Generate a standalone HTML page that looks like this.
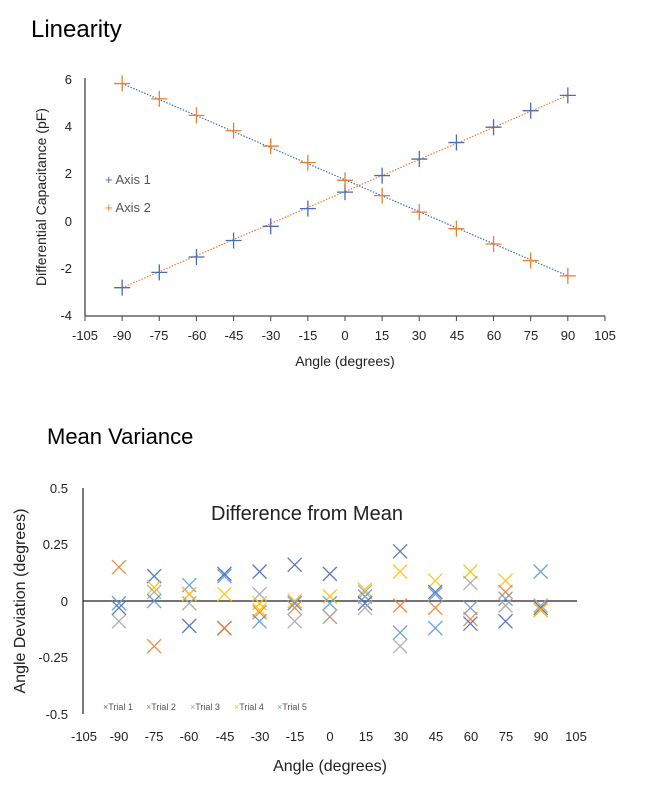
<!DOCTYPE html>
<html><head><meta charset="utf-8"><style>
body{margin:0;background:#fff;width:659px;height:796px;overflow:hidden;font-family:"Liberation Sans",sans-serif}
svg{position:absolute;left:0;top:0}
text{font-family:"Liberation Sans",sans-serif}
</style></head><body>
<svg id="s" width="659" height="796" viewBox="0 0 659 796">
<text x="31" y="37" font-size="24" fill="#000">Linearity</text>
<text x="47" y="444" font-size="22" fill="#000">Mean Variance</text>
<line x1="85" y1="78" x2="85" y2="316" stroke="#444" stroke-width="1.3"/>
<line x1="85" y1="316" x2="605" y2="316" stroke="#444" stroke-width="1.3"/>
<g font-size="13" fill="#222" text-anchor="end">
<text x="72" y="84">6</text><text x="72" y="131">4</text><text x="72" y="178">2</text><text x="72" y="226">0</text><text x="72" y="273">-2</text><text x="72" y="320">-4</text>
</g>
<g font-size="13" fill="#222" text-anchor="middle">
<text x="85" y="340">-105</text><text x="122" y="340">-90</text><text x="159" y="340">-75</text><text x="197" y="340">-60</text><text x="234" y="340">-45</text><text x="271" y="340">-30</text><text x="308" y="340">-15</text><text x="345" y="340">0</text><text x="382" y="340">15</text><text x="419" y="340">30</text><text x="457" y="340">45</text><text x="494" y="340">60</text><text x="531" y="340">75</text><text x="568" y="340">90</text><text x="605" y="340">105</text>
</g>
<text x="345" y="366" font-size="14" fill="#222" text-anchor="middle">Angle (degrees)</text>
<text transform="translate(46,197) rotate(-90)" font-size="14" fill="#222" text-anchor="middle">Differential  Capacitance (pF)</text>
<g font-size="13" fill="#555">
<text x="105" y="184"><tspan fill="#4A6BB5">+</tspan> Axis 1</text>
<text x="105" y="212"><tspan fill="#ED7D31">+</tspan> Axis 2</text>
</g>
<line x1="83" y1="488" x2="83" y2="714" stroke="#222" stroke-width="1.2"/>
<line x1="83" y1="601" x2="577" y2="601" stroke="#222" stroke-width="1.2"/>
<g font-size="13" fill="#222" text-anchor="end">
<text x="68" y="493">0.5</text><text x="68" y="549">0.25</text><text x="68" y="606">0</text><text x="68" y="662">-0.25</text><text x="68" y="719">-0.5</text>
</g>
<g font-size="13" fill="#222" text-anchor="middle">
<text x="84" y="741">-105</text><text x="119" y="741">-90</text><text x="154" y="741">-75</text><text x="189" y="741">-60</text><text x="225" y="741">-45</text><text x="260" y="741">-30</text><text x="295" y="741">-15</text><text x="330" y="741">0</text><text x="366" y="741">15</text><text x="401" y="741">30</text><text x="436" y="741">45</text><text x="471" y="741">60</text><text x="506" y="741">75</text><text x="541" y="741">90</text><text x="576" y="741">105</text>
</g>
<text x="330" y="771" font-size="16" fill="#222" text-anchor="middle">Angle (degrees)</text>
<text transform="translate(25,601) rotate(-90)" font-size="16" fill="#222" text-anchor="middle">Angle Deviation (degrees)</text>
<text x="307" y="520" font-size="20" fill="#222" text-anchor="middle">Difference from Mean</text>
<g font-size="9" fill="#555">
<text x="103" y="710"><tspan fill="#4A6BB5">×</tspan>Trial 1</text>
<text x="146" y="710"><tspan fill="#ED7D31">×</tspan>Trial 2</text>
<text x="190" y="710"><tspan fill="#A5A5A5">×</tspan>Trial 3</text>
<text x="234" y="710"><tspan fill="#FFC000">×</tspan>Trial 4</text>
<text x="277" y="710"><tspan fill="#5B9BD5">×</tspan>Trial 5</text>
</g>
<g id="m"></g>
</svg>
<script>
var g=document.getElementById('m'),h='';
function X(a){return 345+a/15*37.14}function Y(v){return 221.6-v*23.6}
var a1=[-2.8,-2.15,-1.5,-0.8,-0.2,0.55,1.25,1.95,2.65,3.35,4.0,4.7,5.35];
var a2=[5.85,5.2,4.5,3.85,3.2,2.5,1.75,1.1,0.4,-0.3,-0.95,-1.65,-2.3];
for(var i=0;i<=14;i++){var x=85+i*37.14;h+='<line x1="'+x+'" y1="316" x2="'+x+'" y2="321" stroke="#444"/>';}
h+='<line x1="'+X(-90)+'" y1="'+Y(a2[0])+'" x2="'+X(90)+'" y2="'+Y(a2[12])+'" stroke="#4A6BB5" stroke-width="1.2" stroke-dasharray="1.5,1.5"/>';
h+='<line x1="'+X(-90)+'" y1="'+Y(a1[0])+'" x2="'+X(90)+'" y2="'+Y(a1[12])+'" stroke="#ED7D31" stroke-width="1.2" stroke-dasharray="1.5,1.5"/>';
function plus(x,y,c){return '<path d="M'+(x-8)+' '+y+'h16M'+x+' '+(y-8)+'v16" stroke="'+c+'" stroke-width="1.3" fill="none"/>';}
for(var i=0;i<13;i++){var a=-90+15*i;h+=plus(X(a),Y(a1[i]),'#4A6BB5');h+=plus(X(a),Y(a2[i]),'#ED7D31');}
var C={b:'#4A6BB5',o:'#ED7D31',g:'#A5A5A5',y:'#FFC000',l:'#5B9BD5'};
var D=[
[['o',0.15],['g',-0.09],['l',-0.01],['b',-0.03]],
[['b',0.11],['y',0.06],['g',0.04],['l',0.0],['o',-0.2]],
[['l',0.07],['o',0.03],['y',0.03],['g',-0.01],['b',-0.11]],
[['l',0.11],['b',0.12],['y',0.03],['b',-0.12],['o',-0.12]],
[['b',0.13],['g',0.03],['y',-0.01],['o',-0.05],['y',-0.04],['l',-0.09]],
[['b',0.16],['y',0.0],['g',-0.01],['l',-0.01],['o',-0.03],['g',-0.09]],
[['b',0.12],['y',0.02],['l',-0.01],['o',-0.07],['g',-0.07]],
[['y',0.05],['g',0.04],['l',0.02],['b',-0.01],['g',-0.03]],
[['b',0.22],['y',0.13],['o',-0.02],['l',-0.14],['g',-0.2]],
[['y',0.09],['b',0.04],['l',0.03],['o',-0.03],['l',-0.12]],
[['y',0.13],['g',0.08],['l',-0.03],['o',-0.08],['b',-0.1]],
[['y',0.09],['o',0.04],['l',0.01],['g',-0.02],['b',-0.09]],
[['l',0.13],['g',-0.02],['b',-0.03],['o',-0.04],['y',-0.04]]];
for(var i=0;i<13;i++){var x=119+i*35.14;D[i].forEach(function(p){var y=601-p[1]*226,s=7;
h+='<path d="M'+(x-s)+' '+(y-s)+'L'+(x+s)+' '+(y+s)+'M'+(x+s)+' '+(y-s)+'L'+(x-s)+' '+(y+s)+'" stroke="'+C[p[0]]+'" stroke-width="1.3" fill="none" opacity="0.9"/>';});}
g.innerHTML=h;
</script>
</body></html>
